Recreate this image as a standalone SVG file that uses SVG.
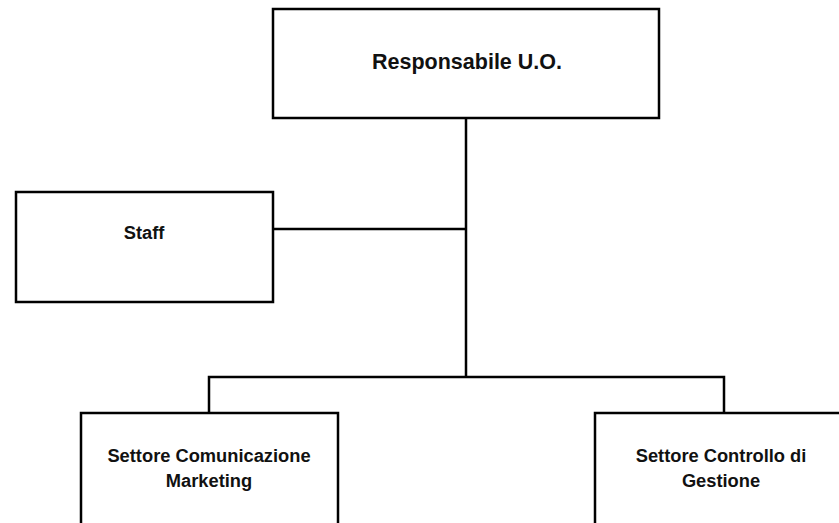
<svg xmlns="http://www.w3.org/2000/svg" width="839" height="523" viewBox="0 0 839 523">
<style>
.box{fill:#fff;stroke:#000;stroke-width:2.5}
.ln{fill:none;stroke:#000;stroke-width:2.5}
.t{font-family:"Liberation Sans",Arial,sans-serif;font-weight:bold;fill:#111;text-anchor:middle}
.s{font-size:18.3px}
.b{font-size:21.5px}
</style>
<rect width="839" height="523" fill="#fff"/>
<g id="connectors">
<path class="ln" d="M466 118V377"/>
<path class="ln" d="M273 229H466"/>
<path class="ln" d="M209 413V377H724V413"/>
</g>
<g id="responsabile">
<rect class="box" x="273" y="9" width="386" height="109"/>
<text class="t b" x="467" y="69">Responsabile U.O.</text>
</g>
<g id="staff">
<rect class="box" x="16" y="192" width="257" height="110"/>
<text class="t s" x="144" y="239">Staff</text>
</g>
<g id="comunicazione">
<rect class="box" x="81" y="413" width="257" height="130"/>
<text class="t s" x="209" y="462">Settore Comunicazione</text>
<text class="t s" x="209" y="487">Marketing</text>
</g>
<g id="controllo">
<rect class="box" x="595" y="413" width="260" height="130"/>
<text class="t s" x="721" y="462">Settore Controllo di</text>
<text class="t s" x="721" y="487">Gestione</text>
</g>
</svg>
